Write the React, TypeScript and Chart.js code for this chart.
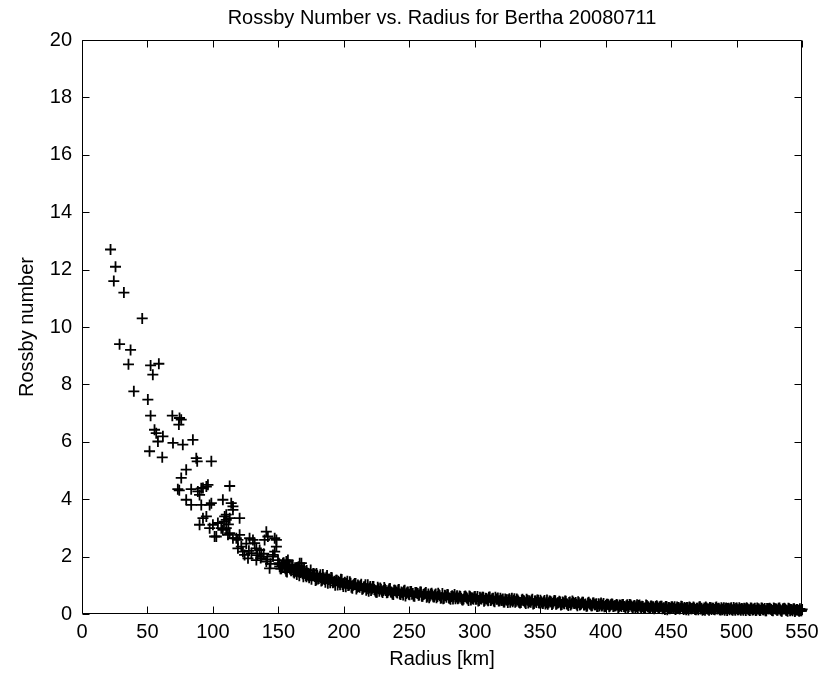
import React, { useEffect, useRef } from "react";
import { Chart, registerables } from "chart.js";

Chart.register(...registerables);

// ---- Data ----
const xTicks = [0, 50, 100, 150, 200, 250, 300, 350, 400, 450, 500, 550];
const yTicks = [0, 2, 4, 6, 8, 10, 12, 14, 16, 18, 20];

// Scattered points at small radius
const sparseRadius = [
  21.8, 25.6, 24.3, 32.0, 46.0, 28.7, 37.1, 35.5, 52.4, 58.7, 54.1, 39.6, 50.3, 52.4, 69.0, 74.5, 75.8, 74.0,
  55.4, 56.7, 61.8, 58.0, 69.5, 77.0, 84.7, 51.6, 61.3, 87.3, 88.0, 98.8, 79.6, 75.8, 73.2, 74.3, 83.4, 91.1,
  95.0, 96.2, 92.4, 88.5, 112.8, 89.8, 79.6, 83.4, 91.1, 97.5, 98.8, 107.6, 114.0, 115.3, 115.3, 110.2, 95.0,
  92.4, 120.4, 89.8, 100.0, 103.8, 110.2, 112.8, 108.5, 106.4, 110.2, 97.5, 107.6, 102.6, 101.3, 111.5, 112.8,
  115.3, 117.9, 119.1, 120.4, 119.1, 121.7, 122.9, 124.2, 126.8, 129.4, 128.0, 130.6, 131.9, 133.2, 135.7,
  133.2, 137.0, 140.8, 142.0, 139.5, 140.8, 145.9, 143.3, 147.2, 148.5, 148.5, 147.2, 145.9, 151.0, 149.7,
  156.1, 157.3, 158.6, 163.8, 166.3, 167.6, 163.8, 168.8, 171.4, 170.1, 179.0, 136.5, 138.8, 141.5, 144.0,
  134.0, 127.5, 125.5, 109.0, 111.8,
];
const sparseRossby = [
  12.7, 12.1, 11.6, 11.2, 10.3, 9.4, 9.2, 8.7, 8.66, 8.72, 8.34, 7.76, 7.47, 6.91, 6.91, 6.83, 6.77, 6.6,
  6.42, 6.3, 6.19, 6.01, 5.96, 5.9, 6.07, 5.67, 5.46, 5.43, 5.32, 5.32, 5.03, 4.74, 4.35, 4.31, 4.35, 4.38,
  4.44, 4.5, 4.39, 4.27, 4.46, 4.15, 3.98, 3.8, 3.8, 3.8, 3.86, 3.98, 3.86, 3.75, 3.63, 3.46, 3.4,
  3.34, 3.34, 3.11, 3.11, 3.17, 3.28, 3.34, 3.22, 2.99, 2.99, 2.99, 2.93, 2.7, 2.7, 2.76, 2.82,
  2.64, 2.64, 2.58, 2.76, 2.29, 2.35, 2.17, 2.06, 1.94, 2.12, 2.64, 2.58, 2.47, 2.29, 2.23,
  1.88, 2.0, 2.87, 2.7, 2.58, 1.83, 2.06, 1.59, 2.64, 2.58, 2.35, 2.17, 2.0, 1.65, 1.88,
  1.83, 1.88, 1.71, 1.59, 1.77, 1.77, 1.48, 1.54, 1.3, 1.42, 1.19, 1.95, 2.1, 1.9, 1.75,
  2.05, 2.2, 2.45, 3.4, 3.12,
];

// Dense band, 150-250 km
const bandRadius150 = [
  150.4, 151.6, 152.9, 154.1, 155.3, 156.6, 157.9, 159.1, 160.4, 161.6, 162.8, 164.1, 165.4, 166.6, 167.9, 169.1, 170.3, 171.6, 172.9, 174.1,
  175.3, 176.6, 177.8, 179.1, 180.3, 181.5, 182.8, 184.0, 185.3, 186.6, 187.8, 189.0, 190.3, 191.6, 192.8, 194.1, 195.3, 196.5, 197.8, 199.0,
  200.2, 201.5, 202.7, 204.0, 205.2, 206.5, 207.7, 209.0, 210.2, 211.5, 212.7, 214.0, 215.2, 216.5, 217.7, 219.0, 220.2, 221.5, 222.7, 224.0,
  225.3, 226.5, 227.8, 229.0, 230.3, 231.5, 232.8, 234.0, 235.3, 236.5, 237.8, 239.0, 240.3, 241.5, 242.8, 244.0, 245.3, 246.5, 247.8, 249.0,
  150.9, 152.2, 153.5, 154.7, 155.9, 157.2, 158.5, 159.7, 161.0, 162.2, 163.4, 164.7, 166.0, 167.2, 168.5, 169.7, 170.9, 172.2, 173.5, 174.7,
  175.9, 177.2, 178.4, 179.7, 180.9, 182.1, 183.4, 184.6, 185.9, 187.2, 188.4, 189.6, 190.9, 192.2, 193.4, 194.7, 195.9, 197.1, 198.4, 199.6,
  200.8, 202.1, 203.3, 204.6, 205.8, 207.1, 208.3, 209.6, 210.8, 212.1, 213.3, 214.6, 215.8, 217.1, 218.3, 219.6, 220.8, 222.1, 223.3, 224.6,
  225.9, 227.1, 228.4, 229.6, 230.9, 232.1, 233.4, 234.6, 235.9, 237.1, 238.4, 239.6, 240.9, 242.1, 243.4, 244.6, 245.9, 247.1, 248.4, 249.6,
];
const bandRossby150 = [
  1.77, 1.58, 1.69, 1.79, 1.58, 1.46, 1.7, 1.56, 1.69, 1.46, 1.56, 1.38, 1.65, 1.45, 1.54, 1.3, 1.48, 1.52, 1.33, 1.38,
  1.21, 1.41, 1.31, 1.41, 1.22, 1.3, 1.15, 1.38, 1.2, 1.28, 1.07, 1.22, 1.27, 1.09, 1.14, 1.18, 1.01, 1.1, 1.21, 1.03,
  1.07, 0.95, 1.14, 1.0, 1.07, 0.9, 1.02, 1.06, 0.93, 0.96, 0.99, 0.86, 0.94, 1.02, 0.88, 0.79, 0.96, 0.87, 0.96, 0.8,
  0.76, 0.88, 0.91, 0.79, 0.82, 0.86, 0.74, 0.81, 0.89, 0.76, 0.68, 0.83, 0.76, 0.84, 0.7, 0.77, 0.66, 0.83, 0.71, 0.77,
  1.73, 1.58, 1.77, 1.62, 1.49, 1.69, 1.64, 1.51, 1.69, 1.43, 1.52, 1.6, 1.33, 1.53, 1.4, 1.57, 1.34, 1.43, 1.26, 1.53,
  1.34, 1.4, 1.17, 1.35, 1.24, 1.37, 1.18, 1.26, 1.11, 1.34, 1.2, 1.09, 1.26, 1.11, 1.0, 1.18, 1.14, 1.02, 1.2, 0.96,
  1.11, 1.07, 0.99, 1.12, 0.93, 1.0, 1.06, 0.87, 1.01, 0.93, 1.04, 0.88, 0.95, 0.83, 1.02, 0.91, 0.82, 0.96, 0.85, 0.76,
  0.93, 0.79, 0.86, 0.75, 0.92, 0.82, 0.75, 0.87, 0.77, 0.7, 0.83, 0.8, 0.73, 0.85, 0.68, 0.74, 0.8, 0.63, 0.76, 0.69,
];

// Dense band, 250-350 km
const bandRadius250 = [
  250.2, 251.5, 252.7, 254.0, 255.2, 256.5, 257.7, 259.0, 260.2, 261.5, 262.7, 264.0, 265.2, 266.5, 267.7, 269.0, 270.2, 271.5, 272.7, 274.0,
  275.3, 276.5, 277.8, 279.0, 280.3, 281.5, 282.8, 284.0, 285.3, 286.5, 287.8, 289.0, 290.3, 291.5, 292.8, 294.0, 295.3, 296.5, 297.8, 299.0,
  300.2, 301.5, 302.7, 304.0, 305.2, 306.5, 307.7, 309.0, 310.2, 311.5, 312.7, 314.0, 315.2, 316.5, 317.7, 319.0, 320.2, 321.5, 322.7, 324.0,
  325.3, 326.5, 327.8, 329.0, 330.3, 331.5, 332.8, 334.0, 335.3, 336.5, 337.8, 339.0, 340.3, 341.5, 342.8, 344.0, 345.3, 346.5, 347.8, 349.0,
  250.8, 252.1, 253.3, 254.6, 255.8, 257.1, 258.3, 259.6, 260.8, 262.1, 263.3, 264.6, 265.8, 267.1, 268.3, 269.6, 270.8, 272.1, 273.3, 274.6,
  275.9, 277.1, 278.4, 279.6, 280.9, 282.1, 283.4, 284.6, 285.9, 287.1, 288.4, 289.6, 290.9, 292.1, 293.4, 294.6, 295.9, 297.1, 298.4, 299.6,
  300.8, 302.1, 303.3, 304.6, 305.8, 307.1, 308.3, 309.6, 310.8, 312.1, 313.3, 314.6, 315.8, 317.1, 318.3, 319.6, 320.8, 322.1, 323.3, 324.6,
  325.9, 327.1, 328.4, 329.6, 330.9, 332.1, 333.4, 334.6, 335.9, 337.1, 338.4, 339.6, 340.9, 342.1, 343.4, 344.6, 345.9, 347.1, 348.4, 349.6,
];
const bandRossby250 = [
  0.67, 0.78, 0.71, 0.62, 0.75, 0.71, 0.66, 0.77, 0.62, 0.7, 0.75, 0.62, 0.57, 0.7, 0.66, 0.59, 0.7, 0.61, 0.67, 0.55,
  0.71, 0.55, 0.64, 0.68, 0.56, 0.51, 0.64, 0.6, 0.53, 0.64, 0.56, 0.61, 0.5, 0.52, 0.63, 0.56, 0.47, 0.6, 0.57, 0.51,
  0.61, 0.52, 0.45, 0.58, 0.52, 0.58, 0.48, 0.54, 0.46, 0.59, 0.49, 0.55, 0.43, 0.52, 0.56, 0.46, 0.49, 0.52, 0.42, 0.49,
  0.4, 0.53, 0.48, 0.43, 0.53, 0.44, 0.49, 0.4, 0.4, 0.51, 0.45, 0.37, 0.48, 0.46, 0.41, 0.51, 0.37, 0.45, 0.49, 0.39,
  0.78, 0.69, 0.63, 0.75, 0.73, 0.65, 0.77, 0.62, 0.68, 0.72, 0.58, 0.7, 0.63, 0.72, 0.6, 0.66, 0.57, 0.72, 0.64, 0.57,
  0.53, 0.65, 0.58, 0.67, 0.55, 0.61, 0.52, 0.68, 0.59, 0.53, 0.63, 0.55, 0.49, 0.61, 0.59, 0.52, 0.63, 0.49, 0.54, 0.59,
  0.51, 0.61, 0.47, 0.53, 0.58, 0.44, 0.55, 0.5, 0.58, 0.47, 0.53, 0.45, 0.58, 0.51, 0.45, 0.55, 0.47, 0.42, 0.52, 0.5,
  0.5, 0.41, 0.55, 0.48, 0.41, 0.52, 0.44, 0.38, 0.49, 0.47, 0.41, 0.51, 0.38, 0.43, 0.48, 0.35, 0.45, 0.4, 0.48, 0.38,
];

// Dense band, 350-450 km
const bandRadius350 = [
  350.2, 351.5, 352.7, 354.0, 355.2, 356.5, 357.7, 359.0, 360.2, 361.5, 362.7, 364.0, 365.2, 366.5, 367.7, 369.0, 370.2, 371.5, 372.7, 374.0,
  375.3, 376.5, 377.8, 379.0, 380.3, 381.5, 382.8, 384.0, 385.3, 386.5, 387.8, 389.0, 390.3, 391.5, 392.8, 394.0, 395.3, 396.5, 397.8, 399.0,
  400.2, 401.5, 402.7, 404.0, 405.2, 406.5, 407.7, 409.0, 410.2, 411.5, 412.7, 414.0, 415.2, 416.5, 417.7, 419.0, 420.2, 421.5, 422.7, 424.0,
  425.3, 426.5, 427.8, 429.0, 430.3, 431.5, 432.8, 434.0, 435.3, 436.5, 437.8, 439.0, 440.3, 441.5, 442.8, 444.0, 445.3, 446.5, 447.8, 449.0,
  350.8, 352.1, 353.3, 354.6, 355.8, 357.1, 358.3, 359.6, 360.8, 362.1, 363.3, 364.6, 365.8, 367.1, 368.3, 369.6, 370.8, 372.1, 373.3, 374.6,
  375.9, 377.1, 378.4, 379.6, 380.9, 382.1, 383.4, 384.6, 385.9, 387.1, 388.4, 389.6, 390.9, 392.1, 393.4, 394.6, 395.9, 397.1, 398.4, 399.6,
  400.8, 402.1, 403.3, 404.6, 405.8, 407.1, 408.3, 409.6, 410.8, 412.1, 413.3, 414.6, 415.8, 417.1, 418.3, 419.6, 420.8, 422.1, 423.3, 424.6,
  425.9, 427.1, 428.4, 429.6, 430.9, 432.1, 433.4, 434.6, 435.9, 437.1, 438.4, 439.6, 440.9, 442.1, 443.4, 444.6, 445.9, 447.1, 448.4, 449.6,
];
const bandRossby350 = [
  0.48, 0.38, 0.43, 0.35, 0.49, 0.39, 0.44, 0.33, 0.42, 0.46, 0.36, 0.39, 0.42, 0.33, 0.39, 0.45, 0.36, 0.3, 0.42, 0.36,
  0.41, 0.37, 0.34, 0.43, 0.31, 0.37, 0.41, 0.32, 0.27, 0.38, 0.35, 0.29, 0.38, 0.32, 0.36, 0.26, 0.28, 0.38, 0.31, 0.25,
  0.3, 0.34, 0.25, 0.32, 0.34, 0.28, 0.29, 0.31, 0.25, 0.3, 0.33, 0.26, 0.22, 0.32, 0.26, 0.32, 0.24, 0.28, 0.21, 0.32,
  0.3, 0.25, 0.27, 0.2, 0.21, 0.3, 0.24, 0.19, 0.27, 0.25, 0.21, 0.29, 0.19, 0.25, 0.27, 0.2, 0.16, 0.26, 0.22, 0.18,
  0.43, 0.37, 0.47, 0.39, 0.34, 0.45, 0.42, 0.37, 0.47, 0.34, 0.39, 0.44, 0.31, 0.42, 0.36, 0.44, 0.34, 0.4, 0.31, 0.45,
  0.37, 0.4, 0.29, 0.39, 0.33, 0.41, 0.31, 0.35, 0.28, 0.41, 0.34, 0.29, 0.38, 0.32, 0.26, 0.36, 0.34, 0.28, 0.37, 0.26,
  0.34, 0.32, 0.28, 0.35, 0.26, 0.29, 0.33, 0.23, 0.31, 0.26, 0.33, 0.25, 0.29, 0.22, 0.33, 0.28, 0.23, 0.3, 0.25, 0.21,
  0.31, 0.22, 0.26, 0.2, 0.31, 0.25, 0.2, 0.28, 0.23, 0.18, 0.26, 0.25, 0.21, 0.27, 0.18, 0.22, 0.26, 0.15, 0.23, 0.19,
];

// Dense band, 450-550 km
const bandRadius450 = [
  450.2, 451.5, 452.7, 454.0, 455.2, 456.5, 457.7, 459.0, 460.2, 461.5, 462.7, 464.0, 465.2, 466.5, 467.7, 469.0, 470.2, 471.5, 472.7, 474.0,
  475.3, 476.5, 477.8, 479.0, 480.3, 481.5, 482.8, 484.0, 485.3, 486.5, 487.8, 489.0, 490.3, 491.5, 492.8, 494.0, 495.3, 496.5, 497.8, 499.0,
  500.2, 501.5, 502.7, 504.0, 505.2, 506.5, 507.7, 509.0, 510.2, 511.5, 512.7, 514.0, 515.2, 516.5, 517.7, 519.0, 520.2, 521.5, 522.7, 524.0,
  525.3, 526.5, 527.8, 529.0, 530.3, 531.5, 532.8, 534.0, 535.3, 536.5, 537.8, 539.0, 540.3, 541.5, 542.8, 544.0, 545.3, 546.5, 547.8, 549.0, 550.1,
  450.8, 452.1, 453.3, 454.6, 455.8, 457.1, 458.3, 459.6, 460.8, 462.1, 463.3, 464.6, 465.8, 467.1, 468.3, 469.6, 470.8, 472.1, 473.3, 474.6,
  475.9, 477.1, 478.4, 479.6, 480.9, 482.1, 483.4, 484.6, 485.9, 487.1, 488.4, 489.6, 490.9, 492.1, 493.4, 494.6, 495.9, 497.1, 498.4, 499.6,
  500.8, 502.1, 503.3, 504.6, 505.8, 507.1, 508.3, 509.6, 510.8, 512.1, 513.3, 514.6, 515.8, 517.1, 518.3, 519.6, 520.8, 522.1, 523.3, 524.6,
  525.9, 527.1, 528.4, 529.6, 530.9, 532.1, 533.4, 534.6, 535.9, 537.1, 538.4, 539.6, 540.9, 542.1, 543.4, 544.6, 545.9, 547.1, 548.4, 549.6,
];
const bandRossby450 = [
  0.24, 0.2, 0.25, 0.18, 0.22, 0.17, 0.27, 0.19, 0.23, 0.15, 0.22, 0.24, 0.18, 0.2, 0.21, 0.15, 0.2, 0.24, 0.17, 0.13,
  0.21, 0.24, 0.17, 0.13, 0.22, 0.2, 0.16, 0.22, 0.17, 0.2, 0.14, 0.15, 0.22, 0.18, 0.12, 0.2, 0.18, 0.15, 0.23, 0.13,
  0.21, 0.15, 0.17, 0.19, 0.13, 0.18, 0.22, 0.15, 0.12, 0.2, 0.15, 0.2, 0.13, 0.17, 0.12, 0.21, 0.15, 0.19, 0.11, 0.18,
  0.2, 0.16, 0.11, 0.19, 0.17, 0.14, 0.21, 0.11, 0.17, 0.2, 0.13, 0.1, 0.18, 0.16, 0.11, 0.18, 0.13, 0.16, 0.1, 0.11, 0.16,
  0.25, 0.2, 0.16, 0.24, 0.23, 0.19, 0.26, 0.16, 0.2, 0.23, 0.14, 0.22, 0.18, 0.24, 0.16, 0.2, 0.15, 0.25, 0.2, 0.16,
  0.13, 0.21, 0.17, 0.23, 0.16, 0.2, 0.15, 0.24, 0.19, 0.15, 0.22, 0.17, 0.13, 0.21, 0.19, 0.15, 0.22, 0.13, 0.17, 0.2,
  0.15, 0.22, 0.13, 0.17, 0.2, 0.12, 0.19, 0.15, 0.21, 0.14, 0.17, 0.12, 0.21, 0.17, 0.13, 0.2, 0.15, 0.11, 0.19, 0.18,
  0.17, 0.12, 0.21, 0.17, 0.13, 0.2, 0.15, 0.1, 0.18, 0.17, 0.13, 0.2, 0.11, 0.15, 0.17, 0.09, 0.16, 0.12, 0.18, 0.11,
];

const TITLE = "Rossby Number vs. Radius for Bertha 20080711";
const X_LABEL = "Radius [km]";
const Y_LABEL = "Rossby number";

const FONT = "'Liberation Sans', Arial, Helvetica, sans-serif";

function pairs(xs: number[], ys: number[]) {
  return xs.map((x, i) => ({ x, y: ys[i] }));
}

const boxPlugin = {
  id: "matlabBox",
  afterDatasetsDraw(chart: any) {
    const { ctx, chartArea, scales } = chart;
    const { left, right, top, bottom } = chartArea;
    const xs = scales.x;
    const ys = scales.y;
    const L = Math.round(left) + 0.5;
    const R = Math.round(right) - 0.5;
    const T = Math.round(top) + 0.5;
    const B = Math.round(bottom) - 0.5;
    const tick = 7;
    ctx.save();
    ctx.strokeStyle = "#000";
    ctx.lineWidth = 1;
    ctx.beginPath();
    ctx.rect(L, T, R - L, B - T);
    xs.ticks.forEach((t: any) => {
      const p = Math.round(xs.getPixelForValue(t.value)) + 0.5;
      ctx.moveTo(p, B);
      ctx.lineTo(p, B - tick);
      ctx.moveTo(p, T);
      ctx.lineTo(p, T + tick);
    });
    ys.ticks.forEach((t: any) => {
      const p = Math.round(ys.getPixelForValue(t.value)) + 0.5;
      ctx.moveTo(L, p);
      ctx.lineTo(L + tick, p);
      ctx.moveTo(R, p);
      ctx.lineTo(R - tick, p);
    });
    ctx.stroke();
    ctx.restore();
  },
};

export default function App() {
  const ref = useRef<HTMLCanvasElement | null>(null);

  useEffect(() => {
    if (!ref.current) return;
    const data = [
      ...pairs(sparseRadius, sparseRossby),
      ...pairs(bandRadius150, bandRossby150),
      ...pairs(bandRadius250, bandRossby250),
      ...pairs(bandRadius350, bandRossby350),
      ...pairs(bandRadius450, bandRossby450),
    ];
    const chart = new Chart(ref.current, {
      type: "scatter",
      data: {
        datasets: [
          {
            label: "Rossby number",
            data,
            showLine: false,
            pointStyle: "cross",
            pointRadius: 5.5,
            pointBorderWidth: 1.8,
            borderWidth: 1.8,
            borderColor: "#000",
            pointBorderColor: "#000",
            backgroundColor: "#000",
            clip: false as any,
          },
        ],
      },
      plugins: [boxPlugin],
      options: {
        animation: false,
        responsive: false,
        devicePixelRatio: 1,
        events: [],
        layout: { padding: { left: 0, right: 34, top: 0, bottom: 0 } },
        plugins: {
          legend: { display: false },
          tooltip: { enabled: false },
          title: {
            display: true,
            fullSize: false,
            text: TITLE,
            color: "#000",
            font: { family: FONT, size: 20, weight: "normal" },
            padding: { top: 6, bottom: 10 },
          },
        },
        scales: {
          x: {
            type: "linear",
            min: 0,
            max: 550,
            afterBuildTicks: (s: any) => {
              s.ticks = xTicks.map((v) => ({ value: v }));
            },
            afterFit: (s: any) => {
              s.height = 61;
            },
            grid: { display: false, drawTicks: false },
            border: { display: false },
            ticks: {
              color: "#000",
              padding: 6,
              maxRotation: 0,
              autoSkip: false,
              font: { family: FONT, size: 20 },
            },
            title: {
              display: true,
              text: X_LABEL,
              color: "#000",
              font: { family: FONT, size: 20 },
              padding: { top: 0, bottom: 4 },
            },
          },
          y: {
            type: "linear",
            min: 0,
            max: 20,
            afterBuildTicks: (s: any) => {
              s.ticks = yTicks.map((v) => ({ value: v }));
            },
            afterFit: (s: any) => {
              s.width = 82;
            },
            grid: { display: false, drawTicks: false },
            border: { display: false },
            ticks: {
              color: "#000",
              padding: 10,
              autoSkip: false,
              font: { family: FONT, size: 20 },
            },
            title: {
              display: true,
              text: Y_LABEL,
              color: "#000",
              font: { family: FONT, size: 20 },
              padding: { top: 15, bottom: 0 },
            },
          },
        },
      },
    });
    return () => chart.destroy();
  }, []);

  return (
    <div style={{ position: "fixed", left: 0, top: 0, width: 836, height: 675, background: "#fff" }}>
      <canvas ref={ref} width={836} height={675} style={{ width: 836, height: 675, display: "block" }} />
    </div>
  );
}
